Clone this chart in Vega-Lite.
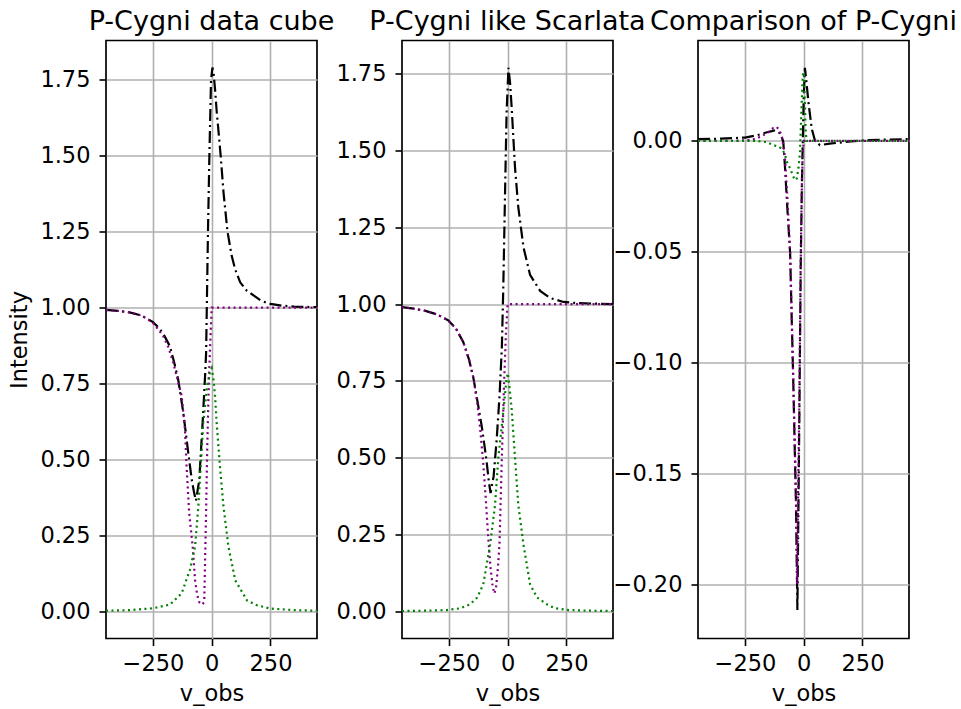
{
"$schema": "https://vega.github.io/schema/vega-lite/v6.json",
"padding": {"left": 8, "top": 6.5, "right": 5, "bottom": 5},
"bounds": "flush",
"spacing": 85,
"config": {
  "font": "DejaVu Sans",
  "view": {"stroke": "black", "strokeWidth": 1.7},
  "axis": {"domain": false, "grid": true, "gridColor": "#b0b0b0", "gridWidth": 1.6, "tickColor": "black", "tickWidth": 1.6, "tickSize": 7, "labelFontSize": 22.5, "labelColor": "black", "titleFontSize": 22.5, "titleFontWeight": "normal", "titleColor": "black", "labelPadding": 9, "titlePadding": 8, "labelFlush": false, "labelOverlap": false},
  "axisX": {"labelPadding": 7, "titlePadding": 7},
  "title": {"fontSize": 27, "fontWeight": "normal", "baseline": "alphabetic", "offset": 5, "anchor": "middle", "color": "black"}
},
"datasets": {
  "cube": [
    {"s":"total","x":-450,"y":0.992},{"s":"total","x":-400,"y":0.989},{"s":"total","x":-350,"y":0.984},{"s":"total","x":-300,"y":0.974},{"s":"total","x":-250,"y":0.952},{"s":"total","x":-221,"y":0.93},{"s":"total","x":-200,"y":0.905},{"s":"total","x":-178,"y":0.872},{"s":"total","x":-160,"y":0.82},{"s":"total","x":-143,"y":0.764},{"s":"total","x":-121,"y":0.654},{"s":"total","x":-100,"y":0.522},{"s":"total","x":-85,"y":0.433},{"s":"total","x":-75,"y":0.39},{"s":"total","x":-67,"y":0.364},{"s":"total","x":-53,"y":0.433},{"s":"total","x":-38,"y":0.632},{"s":"total","x":-29,"y":0.765},{"s":"total","x":-24,"y":0.85},{"s":"total","x":-21,"y":1.0},{"s":"total","x":-16,"y":1.25},{"s":"total","x":-10,"y":1.5},{"s":"total","x":-3,"y":1.75},{"s":"total","x":3,"y":1.79},{"s":"total","x":8,"y":1.77},{"s":"total","x":14,"y":1.72},{"s":"total","x":21,"y":1.646},{"s":"total","x":30,"y":1.57},{"s":"total","x":38,"y":1.5},{"s":"total","x":50,"y":1.38},{"s":"total","x":67,"y":1.25},{"s":"total","x":85,"y":1.17},{"s":"total","x":100,"y":1.125},{"s":"total","x":121,"y":1.083},{"s":"total","x":150,"y":1.055},{"s":"total","x":178,"y":1.04},{"s":"total","x":210,"y":1.022},{"s":"total","x":250,"y":1.012},{"s":"total","x":300,"y":1.006},{"s":"total","x":350,"y":1.003},{"s":"total","x":400,"y":1.002},{"s":"total","x":448,"y":1.001},
    {"s":"abs","x":-450,"y":0.992},{"s":"abs","x":-400,"y":0.989},{"s":"abs","x":-350,"y":0.984},{"s":"abs","x":-300,"y":0.974},{"s":"abs","x":-250,"y":0.95},{"s":"abs","x":-207,"y":0.907},{"s":"abs","x":-185,"y":0.87},{"s":"abs","x":-164,"y":0.819},{"s":"abs","x":-143,"y":0.755},{"s":"abs","x":-128,"y":0.709},{"s":"abs","x":-114,"y":0.599},{"s":"abs","x":-107,"y":0.477},{"s":"abs","x":-96,"y":0.323},{"s":"abs","x":-81,"y":0.213},{"s":"abs","x":-71,"y":0.102},{"s":"abs","x":-62,"y":0.055},{"s":"abs","x":-53,"y":0.03},{"s":"abs","x":-42,"y":0.022},{"s":"abs","x":-32,"y":0.03},{"s":"abs","x":-24,"y":0.327},{"s":"abs","x":-19,"y":0.545},{"s":"abs","x":-12,"y":0.766},{"s":"abs","x":-4,"y":0.93},{"s":"abs","x":0,"y":1.0},{"s":"abs","x":100,"y":1.0},{"s":"abs","x":250,"y":1.0},{"s":"abs","x":448,"y":1.0},
    {"s":"em","x":-450,"y":0.002},{"s":"em","x":-350,"y":0.004},{"s":"em","x":-250,"y":0.01},{"s":"em","x":-178,"y":0.022},{"s":"em","x":-128,"y":0.059},{"s":"em","x":-93,"y":0.136},{"s":"em","x":-71,"y":0.213},{"s":"em","x":-57,"y":0.345},{"s":"em","x":-47,"y":0.477},{"s":"em","x":-36,"y":0.62},{"s":"em","x":-20,"y":0.74},{"s":"em","x":-8,"y":0.785},{"s":"em","x":0,"y":0.8},{"s":"em","x":8,"y":0.76},{"s":"em","x":14,"y":0.709},{"s":"em","x":21,"y":0.62},{"s":"em","x":35,"y":0.477},{"s":"em","x":50,"y":0.345},{"s":"em","x":71,"y":0.213},{"s":"em","x":100,"y":0.102},{"s":"em","x":150,"y":0.036},{"s":"em","x":192,"y":0.02},{"s":"em","x":250,"y":0.009},{"s":"em","x":350,"y":0.004},{"s":"em","x":448,"y":0.002}
  ],
  "scar": [
    {"s":"total","x":-450,"y":0.99},{"s":"total","x":-400,"y":0.985},{"s":"total","x":-350,"y":0.978},{"s":"total","x":-300,"y":0.966},{"s":"total","x":-253,"y":0.947},{"s":"total","x":-220,"y":0.92},{"s":"total","x":-189,"y":0.876},{"s":"total","x":-165,"y":0.82},{"s":"total","x":-146,"y":0.759},{"s":"total","x":-128,"y":0.68},{"s":"total","x":-111,"y":0.604},{"s":"total","x":-100,"y":0.545},{"s":"total","x":-90,"y":0.488},{"s":"total","x":-80,"y":0.42},{"s":"total","x":-73,"y":0.385},{"s":"total","x":-60,"y":0.44},{"s":"total","x":-47,"y":0.56},{"s":"total","x":-35,"y":0.7},{"s":"total","x":-25,"y":0.86},{"s":"total","x":-19,"y":1.05},{"s":"total","x":-11,"y":1.379},{"s":"total","x":-5,"y":1.62},{"s":"total","x":3,"y":1.769},{"s":"total","x":10,"y":1.72},{"s":"total","x":17,"y":1.637},{"s":"total","x":31,"y":1.444},{"s":"total","x":45,"y":1.315},{"s":"total","x":67,"y":1.185},{"s":"total","x":95,"y":1.095},{"s":"total","x":138,"y":1.043},{"s":"total","x":180,"y":1.02},{"s":"total","x":237,"y":1.007},{"s":"total","x":300,"y":1.003},{"s":"total","x":448,"y":1.0},
    {"s":"abs","x":-450,"y":0.99},{"s":"abs","x":-400,"y":0.985},{"s":"abs","x":-350,"y":0.978},{"s":"abs","x":-300,"y":0.966},{"s":"abs","x":-253,"y":0.947},{"s":"abs","x":-220,"y":0.92},{"s":"abs","x":-189,"y":0.876},{"s":"abs","x":-165,"y":0.82},{"s":"abs","x":-146,"y":0.76},{"s":"abs","x":-130,"y":0.68},{"s":"abs","x":-118,"y":0.6},{"s":"abs","x":-104,"y":0.48},{"s":"abs","x":-93,"y":0.36},{"s":"abs","x":-83,"y":0.24},{"s":"abs","x":-73,"y":0.14},{"s":"abs","x":-64,"y":0.08},{"s":"abs","x":-57,"y":0.058},{"s":"abs","x":-50,"y":0.075},{"s":"abs","x":-42,"y":0.14},{"s":"abs","x":-35,"y":0.22},{"s":"abs","x":-26,"y":0.475},{"s":"abs","x":-16,"y":0.733},{"s":"abs","x":-8,"y":0.9},{"s":"abs","x":-2,"y":0.985},{"s":"abs","x":0,"y":1.0},{"s":"abs","x":100,"y":1.0},{"s":"abs","x":250,"y":1.0},{"s":"abs","x":448,"y":1.0},
    {"s":"em","x":-450,"y":0.001},{"s":"em","x":-350,"y":0.002},{"s":"em","x":-260,"y":0.004},{"s":"em","x":-200,"y":0.01},{"s":"em","x":-160,"y":0.023},{"s":"em","x":-130,"y":0.045},{"s":"em","x":-104,"y":0.088},{"s":"em","x":-75,"y":0.217},{"s":"em","x":-54,"y":0.346},{"s":"em","x":-40,"y":0.5},{"s":"em","x":-18,"y":0.656},{"s":"em","x":-6,"y":0.75},{"s":"em","x":0,"y":0.775},{"s":"em","x":6,"y":0.74},{"s":"em","x":17,"y":0.656},{"s":"em","x":31,"y":0.5},{"s":"em","x":45,"y":0.346},{"s":"em","x":67,"y":0.217},{"s":"em","x":95,"y":0.088},{"s":"em","x":125,"y":0.045},{"s":"em","x":166,"y":0.023},{"s":"em","x":200,"y":0.01},{"s":"em","x":260,"y":0.004},{"s":"em","x":350,"y":0.002},{"s":"em","x":448,"y":0.001}
  ],
  "comp": [
    {"s":"total","x":-450,"y":0.0008},{"s":"total","x":-350,"y":0.001},{"s":"total","x":-250,"y":0.0015},{"s":"total","x":-200,"y":0.0025},{"s":"total","x":-160,"y":0.0038},{"s":"total","x":-136,"y":0.0044},{"s":"total","x":-122,"y":0.0048},{"s":"total","x":-110,"y":0.0042},{"s":"total","x":-101,"y":0.0033},{"s":"total","x":-93,"y":0.0015},{"s":"total","x":-87,"y":-0.0004},{"s":"total","x":-80,"y":-0.0114},{"s":"total","x":-70,"y":-0.03},{"s":"total","x":-58,"y":-0.0505},{"s":"total","x":-44,"y":-0.111},{"s":"total","x":-33,"y":-0.164},{"s":"total","x":-27,"y":-0.2116},{"s":"total","x":-23,"y":-0.17},{"s":"total","x":-19,"y":-0.128},{"s":"total","x":-13,"y":-0.058},{"s":"total","x":-8,"y":-0.02},{"s":"total","x":-4,"y":0.0},{"s":"total","x":0,"y":0.02},{"s":"total","x":5,"y":0.033},{"s":"total","x":12,"y":0.026},{"s":"total","x":20,"y":0.0175},{"s":"total","x":34,"y":0.0055},{"s":"total","x":48,"y":0.0},{"s":"total","x":69,"y":-0.0019},{"s":"total","x":110,"y":-0.0012},{"s":"total","x":154,"y":-0.0008},{"s":"total","x":200,"y":-0.0002},{"s":"total","x":268,"y":0.0003},{"s":"total","x":350,"y":0.0006},{"s":"total","x":448,"y":0.0008},
    {"s":"abs","x":-450,"y":0.0},{"s":"abs","x":-300,"y":0.0},{"s":"abs","x":-220,"y":0.0005},{"s":"abs","x":-180,"y":0.002},{"s":"abs","x":-150,"y":0.004},{"s":"abs","x":-130,"y":0.0058},{"s":"abs","x":-115,"y":0.0063},{"s":"abs","x":-105,"y":0.005},{"s":"abs","x":-94,"y":0.0026},{"s":"abs","x":-87,"y":-0.002},{"s":"abs","x":-80,"y":-0.0079},{"s":"abs","x":-70,"y":-0.025},{"s":"abs","x":-58,"y":-0.05},{"s":"abs","x":-44,"y":-0.11},{"s":"abs","x":-33,"y":-0.16},{"s":"abs","x":-28,"y":-0.2},{"s":"abs","x":-24,"y":-0.16},{"s":"abs","x":-19,"y":-0.12},{"s":"abs","x":-13,"y":-0.055},{"s":"abs","x":-8,"y":-0.02},{"s":"abs","x":-4,"y":-0.005},{"s":"abs","x":0,"y":0.0},{"s":"abs","x":200,"y":0.0},{"s":"abs","x":448,"y":0.0},
    {"s":"em","x":-450,"y":0.0},{"s":"em","x":-200,"y":0.0},{"s":"em","x":-160,"y":-0.0005},{"s":"em","x":-129,"y":-0.0019},{"s":"em","x":-110,"y":-0.0025},{"s":"em","x":-94,"y":-0.0034},{"s":"em","x":-80,"y":-0.006},{"s":"em","x":-72,"y":-0.0094},{"s":"em","x":-58,"y":-0.0124},{"s":"em","x":-45,"y":-0.016},{"s":"em","x":-37,"y":-0.0177},{"s":"em","x":-30,"y":-0.017},{"s":"em","x":-22,"y":-0.012},{"s":"em","x":-16,"y":-0.005},{"s":"em","x":-8.5,"y":0.0175},{"s":"em","x":-4,"y":0.0295},{"s":"em","x":0,"y":0.031},{"s":"em","x":4,"y":0.02},{"s":"em","x":8,"y":0.005},{"s":"em","x":12,"y":0.0},{"s":"em","x":200,"y":0.0},{"s":"em","x":448,"y":0.0}
  ]
},
"hconcat": [
  {
    "title": "P-Cygni data cube",
    "width": 211, "height": 598,
    "data": {"name": "cube"},
    "encoding": {
      "x": {"field": "x", "type": "quantitative", "scale": {"domain": [-450, 448], "nice": false, "zero": false}, "axis": {"values": [-250, 0, 250], "format": "d", "title": "v_obs"}},
      "y": {"field": "y", "type": "quantitative", "scale": {"domain": [-0.0895, 1.879], "nice": false, "zero": false}, "axis": {"values": [0, 0.25, 0.5, 0.75, 1, 1.25, 1.5, 1.75], "format": ".2f", "title": "Intensity"}}
    },
    "layer": [
      {"transform": [{"filter": "datum.s === 'total'"}], "mark": {"type": "line", "color": "black", "strokeWidth": 2.2, "strokeDash": [12, 4, 2, 4], "clip": true}},
      {"transform": [{"filter": "datum.s === 'abs'"}], "mark": {"type": "line", "color": "#800080", "strokeWidth": 2.2, "strokeDash": [2, 3.5], "clip": true}},
      {"transform": [{"filter": "datum.s === 'em'"}], "mark": {"type": "line", "color": "#008000", "strokeWidth": 2.2, "strokeDash": [2, 3.5], "clip": true}}
    ]
  },
  {
    "title": "P-Cygni like Scarlata",
    "width": 211, "height": 598,
    "data": {"name": "scar"},
    "encoding": {
      "x": {"field": "x", "type": "quantitative", "scale": {"domain": [-450, 448], "nice": false, "zero": false}, "axis": {"values": [-250, 0, 250], "format": "d", "title": "v_obs"}},
      "y": {"field": "y", "type": "quantitative", "scale": {"domain": [-0.0885, 1.858], "nice": false, "zero": false}, "axis": {"values": [0, 0.25, 0.5, 0.75, 1, 1.25, 1.5, 1.75], "format": ".2f", "title": null}}
    },
    "layer": [
      {"transform": [{"filter": "datum.s === 'total'"}], "mark": {"type": "line", "color": "black", "strokeWidth": 2.2, "strokeDash": [12, 4, 2, 4], "clip": true}},
      {"transform": [{"filter": "datum.s === 'abs'"}], "mark": {"type": "line", "color": "#800080", "strokeWidth": 2.2, "strokeDash": [2, 3.5], "clip": true}},
      {"transform": [{"filter": "datum.s === 'em'"}], "mark": {"type": "line", "color": "#008000", "strokeWidth": 2.2, "strokeDash": [2, 3.5], "clip": true}}
    ]
  },
  {
    "title": "Comparison of P-Cygni",
    "width": 211, "height": 598,
    "data": {"name": "comp"},
    "encoding": {
      "x": {"field": "x", "type": "quantitative", "scale": {"domain": [-450, 448], "nice": false, "zero": false}, "axis": {"values": [-250, 0, 250], "format": "d", "title": "v_obs"}},
      "y": {"field": "y", "type": "quantitative", "scale": {"domain": [-0.2245, 0.0453], "nice": false, "zero": false}, "axis": {"values": [-0.2, -0.15, -0.1, -0.05, 0], "format": ".2f", "title": null}}
    },
    "layer": [
      {"transform": [{"filter": "datum.s === 'total'"}], "mark": {"type": "line", "color": "black", "strokeWidth": 2.2, "strokeDash": [12, 4, 2, 4], "clip": true}},
      {"transform": [{"filter": "datum.s === 'abs'"}], "mark": {"type": "line", "color": "#800080", "strokeWidth": 2.2, "strokeDash": [2, 3.5], "clip": true}},
      {"transform": [{"filter": "datum.s === 'em'"}], "mark": {"type": "line", "color": "#008000", "strokeWidth": 2.2, "strokeDash": [2, 3.5], "clip": true}}
    ]
  }
]
}
